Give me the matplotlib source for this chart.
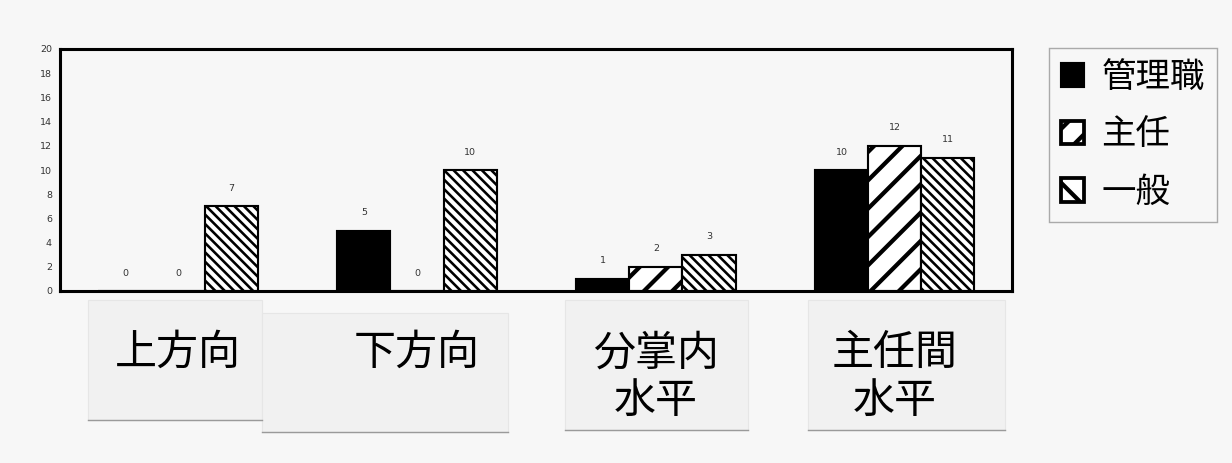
import matplotlib
matplotlib.use("Agg")
import matplotlib.pyplot as plt
from matplotlib.patches import Rectangle, Patch
from matplotlib.lines import Line2D
import numpy as np

plt.rcParams['font.family'] = ['Noto Sans CJK JP', 'DejaVu Sans']
plt.rcParams['hatch.linewidth'] = 1.8

categories = ['上方向', '下方向', '分掌内\n水平', '主任間\n水平']
series = ['管理職', '主任', '一般']
kanri = [0, 5, 1, 10]
shunin = [0, 0, 2, 12]
ippan = [7, 10, 3, 11]
yticks = list(range(0, 21, 2))

DPI = 170
bg = '#f7f7f7'
fig = plt.figure(figsize=(1232 / DPI, 463 / DPI), dpi=DPI, facecolor=bg)

# paper cards under the category labels (figure px: x0, y_top, x1, y_bottom)
cards = [(88, 300, 262, 420), (262, 313, 508, 432), (565, 300, 748, 430), (808, 300, 1005, 430)]
for x0, yt, x1, yb in cards:
    fig.patches.append(Rectangle((x0 / 1232, 1 - yb / 463), (x1 - x0) / 1232, (yb - yt) / 463,
                                 transform=fig.transFigure, facecolor='#f1f1f1',
                                 edgecolor='#e6e6e6', lw=0.5, zorder=-2))
    fig.lines.append(Line2D([x0 / 1232, x1 / 1232], [1 - yb / 463] * 2, transform=fig.transFigure,
                            color='#9a9a9a', lw=0.6, zorder=-1))

ax = fig.add_axes([60 / 1232, 1 - 291 / 463, 952 / 1232, 242 / 463])
ax.set_facecolor(bg)

x = np.arange(len(categories))
w = 0.222
styles = [dict(color='black', hatch=None, hlw=1.8), dict(color='white', hatch='//', hlw=1.8),
          dict(color='white', hatch='\\' * 6, hlw=1.1)]
for i, (vals, st) in enumerate(zip([kanri, shunin, ippan], styles)):
    bars = ax.bar(x + (i - 1) * w, vals, w, facecolor=st['color'], edgecolor='black',
                  lw=0.9, hatch=st['hatch'], label=series[i], zorder=2)
    for b, v in zip(bars, vals):
        if hasattr(b, 'set_hatch_linewidth'):
            b.set_hatch_linewidth(st['hlw'])
        ax.annotate(str(v), (b.get_x() + b.get_width() / 2, v), xytext=(0, 7.6),
                    textcoords='offset points', ha='center', va='center',
                    fontsize=4, color='#333333', family='DejaVu Sans')

ax.set_xlim(-0.494, 3.49)
ax.set_ylim(0, 20)
ax.set_yticks(yticks)
ax.set_yticklabels([str(t) for t in yticks], fontsize=4, color='#333333', family='DejaVu Sans')
ax.tick_params(axis='y', length=0, pad=3.4)
ax.set_xticks(x)
ax.set_xticklabels(categories, fontsize=17.8, linespacing=1.1)
ax.tick_params(axis='x', length=0, pad=17)
for s in ax.spines.values():
    s.set_linewidth(1.3)

handles = [Patch(facecolor='black', edgecolor='black', lw=0.9),
           Patch(facecolor='white', edgecolor='black', lw=1.6, hatch='//'),
           Patch(facecolor='white', edgecolor='black', lw=1.6, hatch='\\\\')]
leg = fig.legend(handles, series, loc='upper right', bbox_to_anchor=(1217 / 1232, 1 - 48 / 463),
                 borderaxespad=0, fontsize=14.6, handlelength=0.68, handleheight=0.68,
                 handletextpad=0.5, labelspacing=0.65, borderpad=0.35, fancybox=False,
                 framealpha=1, facecolor=bg, edgecolor='#aaaaaa')
leg.get_frame().set_linewidth(0.6)

fig.savefig('out.png', dpi=DPI, facecolor=bg)
